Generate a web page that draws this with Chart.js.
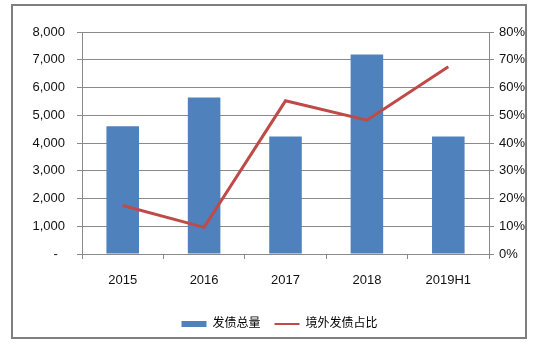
<!DOCTYPE html>
<html lang="zh">
<head>
<meta charset="utf-8">
<title>发债总量与境外发债占比</title>
<script src="https://cdn.jsdelivr.net/npm/chart.js@4/dist/chart.umd.min.js"></script>
<style>
    html, body {
        margin: 0;
        padding: 0;
        background: #ffffff;
    }
    #chartWrap {
        position: relative;
        width: 542px;
        height: 352px;
    }
</style>
</head>
<body>
<div id="chartWrap">
    <canvas id="bondChart" width="542" height="352"></canvas>
</div>
<script>
// ==============================
// DADOS DO GRÁFICO
// ==============================
const categories = ['2015', '2016', '2017', '2018', '2019H1'];
const issueTotal = [4600, 5640, 4230, 7190, 4230];      // 发债总量
const overseasShare = [17.5, 9.6, 55.2, 48.2, 67.5];     // 境外发债占比 (%)
const leftTicks = [0, 1000, 2000, 3000, 4000, 5000, 6000, 7000, 8000];
const rightTicks = [0, 10, 20, 30, 40, 50, 60, 70, 80];

const FONT = 'Arial, "Liberation Sans", "Noto Sans CJK SC", sans-serif';
const GRID_GRAY = '#8a8a8a';

document.addEventListener('DOMContentLoaded', function() {
    createBondChart();
});

// moldura cinza em volta de tudo
const framePlugin = {
    id: 'frame',
    afterDraw(chart) {
        const ctx = chart.ctx;
        ctx.save();
        ctx.strokeStyle = '#7f7f7f';
        ctx.lineWidth = 2;
        ctx.strokeRect(12, 5, 514, 333);
        ctx.restore();
    }
};

function formatThousands(value) {
    if (value === 0) return '-  ';
    return value.toLocaleString('en-US');
}

function createBondChart() {
    const ctx = document.getElementById('bondChart');
    if (!ctx) return;

    new Chart(ctx, {
        type: 'bar',
        data: {
            labels: categories,
            datasets: [{
                type: 'bar',
                label: '发债总量',
                data: issueTotal,
                backgroundColor: '#4f81bd',
                barPercentage: 0.4,
                categoryPercentage: 1.0,
                yAxisID: 'y',
                order: 2
            }, {
                type: 'line',
                label: '境外发债占比',
                data: overseasShare,
                borderColor: '#be4b48',
                backgroundColor: '#be4b48',
                borderWidth: 3,
                pointRadius: 0,
                tension: 0,
                yAxisID: 'y1',
                order: 1
            }]
        },
        options: {
            responsive: false,
            animation: false,
            layout: {
                padding: { left: 17, right: 0, top: 32, bottom: 12 }
            },
            plugins: {
                tooltip: { enabled: false },
                legend: {
                    position: 'bottom',
                    labels: {
                        color: '#111111',
                        font: { family: FONT, size: 12 },
                        usePointStyle: true,
                        boxHeight: 6,
                        pointStyleWidth: 25,
                        padding: 14,
                        generateLabels: function(chart) {
                            return [{
                                text: '发债总量',
                                fillStyle: '#4f81bd',
                                strokeStyle: '#4f81bd',
                                lineWidth: 0,
                                pointStyle: 'rect',
                                datasetIndex: 0
                            }, {
                                text: '境外发债占比',
                                fillStyle: '#be4b48',
                                strokeStyle: '#be4b48',
                                lineWidth: 2,
                                pointStyle: 'line',
                                datasetIndex: 1
                            }];
                        }
                    }
                }
            },
            scales: {
                x: {
                    offset: true,
                    grid: {
                        offset: true,
                        drawOnChartArea: false,
                        drawTicks: true,
                        tickLength: 5,
                        color: GRID_GRAY
                    },
                    border: { display: true, color: GRID_GRAY },
                    ticks: {
                        color: '#111111',
                        padding: 14,
                        maxRotation: 0,
                        font: { family: FONT, size: 13 }
                    },
                    afterFit: function(scale) { scale.height = 50; }
                },
                y: {
                    position: 'left',
                    min: 0,
                    max: 8000,
                    afterBuildTicks: function(scale) {
                        scale.ticks = leftTicks.map(v => ({ value: v }));
                    },
                    grid: {
                        color: GRID_GRAY,
                        tickLength: 5
                    },
                    border: { display: true, color: GRID_GRAY },
                    ticks: {
                        color: '#111111',
                        padding: 12,
                        font: { family: FONT, size: 13 },
                        callback: formatThousands
                    },
                    afterFit: function(scale) { scale.width = 65; }
                },
                y1: {
                    position: 'right',
                    min: 0,
                    max: 80,
                    afterBuildTicks: function(scale) {
                        scale.ticks = rightTicks.map(v => ({ value: v }));
                    },
                    grid: {
                        drawOnChartArea: false,
                        tickLength: 5,
                        color: GRID_GRAY
                    },
                    border: { display: true, color: GRID_GRAY },
                    ticks: {
                        color: '#111111',
                        padding: 5,
                        font: { family: FONT, size: 13 },
                        callback: function(value) { return value + '%'; }
                    },
                    afterFit: function(scale) { scale.width = 53; }
                }
            }
        },
        plugins: [framePlugin]
    });
}
</script>
</body>
</html>
